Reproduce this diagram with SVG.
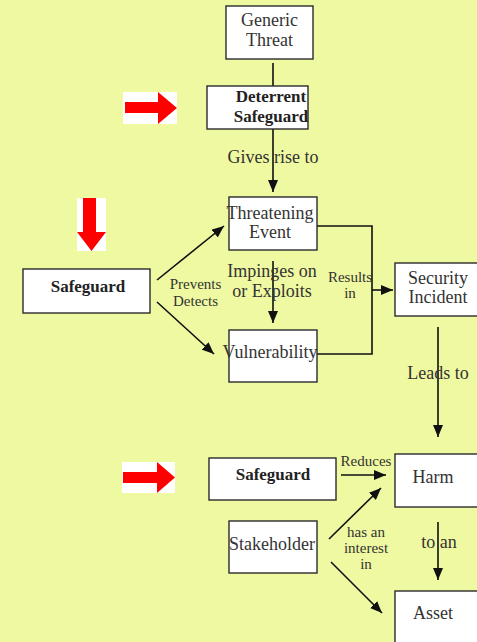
<svg xmlns="http://www.w3.org/2000/svg" width="477" height="642" viewBox="0 0 477 642">
<defs>
<style>
.bg{fill:#eff9a1}
.box{fill:#ffffff;stroke:#2b2b2b;stroke-width:1.4}
.t{font-family:"Liberation Serif","Times New Roman",serif;font-size:18px;fill:#333333;text-anchor:middle}
.b{font-weight:bold;fill:#222222;font-size:17px}
.s{font-size:15px}
.c{fill:none;stroke:#111111;stroke-width:1.6}
.red{fill:#ff0000}
.wh{fill:#ffffff}
</style>
<marker id="ah" viewBox="0 0 12 10" refX="12" refY="5" markerWidth="12" markerHeight="10" markerUnits="userSpaceOnUse" orient="auto">
<path d="M0,0 L12,5 L0,10 Z" fill="#111111"/>
</marker>
</defs>
<rect class="bg" x="0" y="0" width="477" height="642"/>

<g id="red-arrows">
<rect class="wh" x="123" y="92" width="54" height="32"/>
<path class="red" d="M125,102 H158 V92 L177,108 L158,124 V113 H125 Z"/>
<rect class="wh" x="122" y="462" width="53" height="31"/>
<path class="red" d="M123,472 H157 V462 L175,477.5 L157,493 V483 H123 Z"/>
<rect class="wh" x="77" y="198" width="29" height="53"/>
<path class="red" d="M83,198 H96 V232 H106 L91.5,251 L77,232 H83 Z"/>
</g>

<g id="connectors">
<line class="c" x1="273" y1="63" x2="273" y2="86"/>
<line class="c" x1="273" y1="129" x2="273" y2="192" marker-end="url(#ah)"/>
<line class="c" x1="157" y1="280" x2="224" y2="226" marker-end="url(#ah)"/>
<line class="c" x1="157" y1="302" x2="214" y2="354" marker-end="url(#ah)"/>
<line class="c" x1="273" y1="261" x2="273" y2="323" marker-end="url(#ah)"/>
<polyline class="c" points="317,226 372,226 372,354 317,354"/>
<line class="c" x1="372" y1="290" x2="393" y2="290" marker-end="url(#ah)"/>
<line class="c" x1="438" y1="327" x2="438" y2="437" marker-end="url(#ah)"/>
<line class="c" x1="341" y1="475" x2="386" y2="475" marker-end="url(#ah)"/>
<line class="c" x1="329" y1="539" x2="381" y2="488" marker-end="url(#ah)"/>
<line class="c" x1="331" y1="562" x2="382" y2="613" marker-end="url(#ah)"/>
<line class="c" x1="438" y1="522" x2="438" y2="580" marker-end="url(#ah)"/>
<text class="t" x="273" y="163">Gives rise to</text>
<text class="t s" x="195.5" y="289">Prevents</text>
<text class="t s" x="195.5" y="306">Detects</text>
<text class="t" x="272" y="277">Impinges on</text>
<text class="t" x="272" y="297">or Exploits</text>
<text class="t s" x="350" y="282">Results</text>
<text class="t s" x="350" y="298">in</text>
<text class="t" x="438" y="379">Leads to</text>
<text class="t s" x="366" y="466">Reduces</text>
<text class="t s" x="366" y="537">has an</text>
<text class="t s" x="366" y="553">interest</text>
<text class="t s" x="366" y="569">in</text>
<text class="t" x="439" y="548">to an</text>
</g>

<g id="generic-threat">
<rect class="box" x="226" y="6" width="87" height="53"/>
<text class="t" x="269.5" y="26">Generic</text>
<text class="t" x="269.5" y="46">Threat</text>
</g>
<g id="deterrent-safeguard">
<rect class="box" x="207" y="86" width="101" height="43"/>
<text class="t b" x="271" y="102">Deterrent</text>
<text class="t b" x="271" y="122">Safeguard</text>
</g>
<g id="threatening-event">
<rect class="box" x="229" y="197" width="88" height="53"/>
<text class="t" x="270" y="219">Threatening</text>
<text class="t" x="270" y="238">Event</text>
</g>
<g id="safeguard-left">
<rect class="box" x="23" y="269" width="127" height="44"/>
<text class="t b" x="88" y="292">Safeguard</text>
</g>
<g id="vulnerability">
<rect class="box" x="229" y="330" width="88" height="52"/>
<text class="t" x="270" y="358">Vulnerability</text>
</g>
<g id="security-incident">
<rect class="box" x="395" y="263" width="90" height="53"/>
<text class="t" x="438" y="284">Security</text>
<text class="t" x="438" y="303">Incident</text>
</g>
<g id="safeguard-bottom">
<rect class="box" x="209" y="458" width="127" height="42"/>
<text class="t b" x="273" y="480">Safeguard</text>
</g>
<g id="harm">
<rect class="box" x="395" y="454" width="90" height="53"/>
<text class="t" x="433" y="483">Harm</text>
</g>
<g id="stakeholder">
<rect class="box" x="229" y="521" width="88" height="52"/>
<text class="t" x="272" y="550">Stakeholder</text>
</g>
<g id="asset">
<rect class="box" x="395" y="591" width="90" height="60"/>
<text class="t" x="433" y="619">Asset</text>
</g>
</svg>
